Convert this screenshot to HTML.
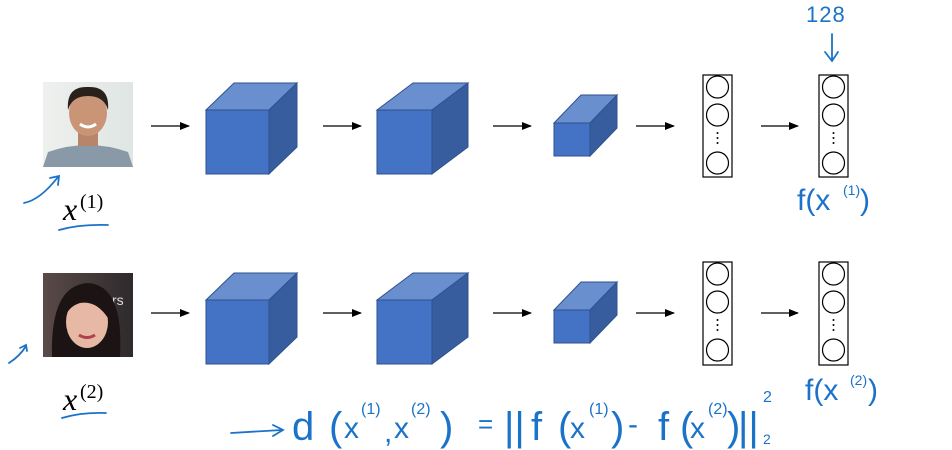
<!DOCTYPE html>
<html><head><meta charset="utf-8"><style>html,body{margin:0;padding:0;background:#fff}svg{display:block}</style></head>
<body>
<svg width="952" height="450" viewBox="0 0 952 450" xmlns="http://www.w3.org/2000/svg">
<defs>
<marker id="ah" markerWidth="10" markerHeight="8" refX="9" refY="4" orient="auto" markerUnits="userSpaceOnUse"><path d="M0,0 L10,4 L0,8 z" fill="#000"/></marker>
<linearGradient id="bg1" x1="0" x2="1"><stop offset="0" stop-color="#eef0ee"/><stop offset="1" stop-color="#dfe6e3"/></linearGradient>
<linearGradient id="bg2" x1="0" x2="1"><stop offset="0" stop-color="#5a4a48"/><stop offset="1" stop-color="#2e2a2c"/></linearGradient>
</defs>

<rect x="43" y="82" width="90" height="85" fill="url(#bg1)"/>
<path d="M43,167 L48,152 Q88,138 128,152 L133,167 z" fill="#8a99a8"/>
<rect x="78" y="128" width="20" height="18" fill="#b8846a"/>
<ellipse cx="88" cy="113" rx="19" ry="23" fill="#c99576"/>
<path d="M68,110 Q66,86 88,87 Q110,86 108,110 Q104,96 88,96 Q72,96 68,110z" fill="#2a211c"/>
<path d="M80,124 Q88,130 96,124" stroke="#fff" stroke-width="3" fill="none"/>

<rect x="43" y="273" width="90" height="84" fill="url(#bg2)"/>
<text x="112" y="305" font-family="Liberation Sans" font-size="14" fill="#ddd">rs</text>
<path d="M52,357 Q50,285 88,283 Q124,285 120,357z" fill="#1c1414"/>
<ellipse cx="87" cy="322" rx="21" ry="26" fill="#e7b8a4"/>
<path d="M66,315 Q70,288 92,290 Q108,294 108,318 Q96,300 80,303 Q70,306 66,315z" fill="#1c1414"/>
<path d="M79,335 Q87,340 95,335" stroke="#b0404a" stroke-width="3" fill="none"/>

<g stroke="#2f528f" stroke-width="1">
<polygon points="206,110 234,83 297,83 269,110" fill="#6a8fcf"/>
<polygon points="269,110 297,83 297,147 269,174" fill="#375d9e"/>
<rect x="206" y="110" width="63" height="64" fill="#4472c4"/>
<polygon points="377,110 413,83 468,83 432,110" fill="#6a8fcf"/>
<polygon points="432,110 468,83 468,147 432,174" fill="#375d9e"/>
<rect x="377" y="110" width="55" height="64" fill="#4472c4"/>
<polygon points="554,123 581,95 617,95 590,123" fill="#6a8fcf"/>
<polygon points="590,123 617,95 617,128 590,156" fill="#375d9e"/>
<rect x="554" y="123" width="36" height="33" fill="#4472c4"/>
<polygon points="206,300 234,273 297,273 269,300" fill="#6a8fcf"/>
<polygon points="269,300 297,273 297,337 269,364" fill="#375d9e"/>
<rect x="206" y="300" width="63" height="64" fill="#4472c4"/>
<polygon points="377,300 413,273 468,273 432,300" fill="#6a8fcf"/>
<polygon points="432,300 468,273 468,337 432,364" fill="#375d9e"/>
<rect x="377" y="300" width="55" height="64" fill="#4472c4"/>
<polygon points="554,310 581,282 617,282 590,310" fill="#6a8fcf"/>
<polygon points="590,310 617,282 617,315 590,343" fill="#375d9e"/>
<rect x="554" y="310" width="36" height="33" fill="#4472c4"/>
</g>

<g stroke="#000" stroke-width="1.3" marker-end="url(#ah)">
<line x1="151" y1="126" x2="189" y2="126"/><line x1="323" y1="126" x2="361" y2="126"/>
<line x1="493" y1="126" x2="531" y2="126"/><line x1="636" y1="126" x2="674" y2="126"/>
<line x1="761" y1="126" x2="798" y2="126"/>
<line x1="151" y1="313" x2="189" y2="313"/><line x1="323" y1="313" x2="361" y2="313"/>
<line x1="493" y1="313" x2="531" y2="313"/><line x1="636" y1="313" x2="674" y2="313"/>
<line x1="761" y1="313" x2="798" y2="313"/>
</g>

<g fill="none" stroke="#000" stroke-width="1.2">
<rect x="703" y="75" width="29" height="102"/><rect x="819" y="75" width="29" height="102"/>
<rect x="703" y="262" width="29" height="103"/><rect x="819" y="262" width="29" height="103"/>
<circle cx="717.5" cy="87" r="11"/><circle cx="717.5" cy="115" r="11"/><circle cx="717.5" cy="163" r="11"/>
<circle cx="833.5" cy="87" r="11"/><circle cx="833.5" cy="115" r="11"/><circle cx="833.5" cy="163" r="11"/>
<circle cx="717.5" cy="274" r="11"/><circle cx="717.5" cy="302" r="11"/><circle cx="717.5" cy="350" r="11"/>
<circle cx="833.5" cy="274" r="11"/><circle cx="833.5" cy="302" r="11"/><circle cx="833.5" cy="350" r="11"/>
</g>
<g fill="#000">
<circle cx="717.5" cy="133" r="1"/><circle cx="717.5" cy="138" r="1"/><circle cx="717.5" cy="143" r="1"/>
<circle cx="833.5" cy="133" r="1"/><circle cx="833.5" cy="138" r="1"/><circle cx="833.5" cy="143" r="1"/>
<circle cx="717.5" cy="320" r="1"/><circle cx="717.5" cy="325" r="1"/><circle cx="717.5" cy="330" r="1"/>
<circle cx="833.5" cy="320" r="1"/><circle cx="833.5" cy="325" r="1"/><circle cx="833.5" cy="330" r="1"/>
</g>

<g font-family="Liberation Serif, serif" fill="#000">
<text x="63" y="220" font-size="32" font-style="italic">x</text><text x="80" y="208" font-size="20">(1)</text>
<text x="63" y="410" font-size="32" font-style="italic">x</text><text x="80" y="398" font-size="20">(2)</text>
</g>

<g stroke="#1a73c8" stroke-width="1.8" fill="none" stroke-linecap="round">
<path d="M24,203 Q40,200 58,177"/><path d="M50,178 L59,176 L58,185"/>
<path d="M59,230 Q80,224 108,225"/>
<path d="M9,363 Q20,356 26,346"/><path d="M20,348 L26,345 L27,351"/>
<path d="M62,418 Q82,412 106,413"/>
<path d="M832,34 L832,60"/><path d="M825,52 L832,61 L838,52"/>
<path d="M231,433 L282,430"/><path d="M273,425 L283,430 L273,436"/>
</g>
<g font-family="Liberation Sans, sans-serif" fill="#1a73c8">
<text x="806" y="22" font-size="22" letter-spacing="1">128</text>
<text x="797" y="210" font-size="30">f(x</text><text x="843" y="195" font-size="14">(1)</text><text x="860" y="210" font-size="30">)</text>
<text x="805" y="400" font-size="30">f(x</text><text x="850" y="385" font-size="14">(2)</text><text x="868" y="400" font-size="30">)</text>
</g>
<g font-family="Liberation Sans, sans-serif" fill="#1a73c8" font-size="40">
<text x="292" y="440">d</text><text x="329" y="440">(</text><text x="344" y="438" font-size="30">x</text>
<text x="361" y="414" font-size="16">(1)</text><text x="384" y="442" font-size="30">,</text><text x="394" y="438" font-size="30">x</text>
<text x="411" y="414" font-size="16">(2)</text><text x="440" y="440">)</text>
<text x="478" y="433" font-size="26">=</text>
<text x="504" y="440">||</text><text x="531" y="440">f</text><text x="558" y="440">(</text><text x="570" y="438" font-size="30">x</text>
<text x="589" y="414" font-size="16">(1)</text><text x="611" y="440">)</text><text x="628" y="434" font-size="30">-</text>
<text x="658" y="440">f</text><text x="680" y="440">(</text><text x="690" y="438" font-size="30">x</text>
<text x="708" y="414" font-size="16">(2)</text><text x="727" y="440">)</text><text x="738" y="440">||</text>
<text x="763" y="402" font-size="16">2</text><text x="763" y="444" font-size="14">2</text>
</g>
</svg>
</body></html>
